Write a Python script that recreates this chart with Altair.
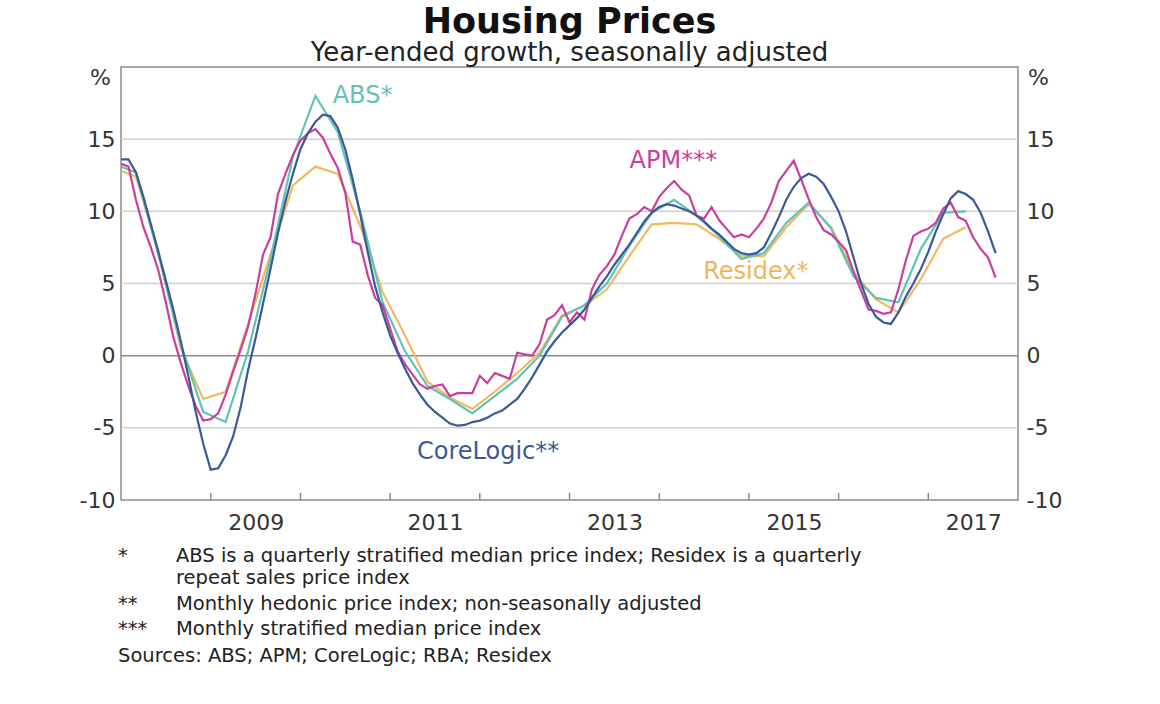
import altair as alt
import pandas as pd

# ---------------- data (year-ended growth, %) ----------------
# CoreLogic, monthly from Dec 2007 to Oct 2017
corelogic = [13.5,
    13.6, 13.6, 12.7, 11.0, 9.1, 7.2, 5.2, 3.2, 1.0, -1.4, -3.9, -6.1,
    -7.9, -7.8, -6.9, -5.6, -3.6, -1.0, 1.2, 3.6, 6.0, 8.5, 10.7, 12.6,
    14.3, 15.4, 16.2, 16.7, 16.6, 15.8, 14.3, 12.2, 9.8, 7.2, 4.8, 3.0,
    1.4, 0.2, -0.9, -1.9, -2.7, -3.4, -3.9, -4.3, -4.7, -4.85, -4.8, -4.6,
    -4.5, -4.3, -4.0, -3.8, -3.4, -3.0, -2.3, -1.5, -0.6, 0.3, 1.0, 1.6,
    2.1, 2.6, 3.2, 4.0, 4.8, 5.5, 6.3, 7.0, 7.7, 8.5, 9.3, 9.9,
    10.3, 10.5, 10.4, 10.2, 10.0, 9.7, 9.3, 8.8, 8.4, 7.9, 7.4, 7.1,
    7.0, 7.1, 7.5, 8.5, 9.6, 10.8, 11.7, 12.3, 12.6, 12.4, 11.9, 11.0,
    10.0, 8.6, 6.8, 5.0, 3.6, 2.7, 2.3, 2.2, 3.0, 4.1, 5.0, 6.0,
    7.2, 8.6, 9.8, 10.9, 11.4, 11.2, 10.8, 9.9, 8.6, 7.1]

# APM, monthly from Dec 2007 to Oct 2017
apm = [13.2,
    13.3, 13.1, 10.8, 8.9, 7.5, 5.9, 3.7, 1.3, -0.5, -2.1, -3.5, -4.5,
    -4.4, -4.0, -2.7, -1.1, 0.4, 2.0, 4.3, 7.0, 8.2, 11.2, 12.6, 13.9,
    14.9, 15.4, 15.7, 15.1, 14.0, 13.0, 11.3, 7.9, 7.7, 5.6, 4.0, 3.5,
    1.9, 0.3, -0.6, -1.3, -2.0, -2.3, -2.1, -2.0, -2.8, -2.6, -2.6, -2.6,
    -1.4, -1.9, -1.2, -1.4, -1.6, 0.2, 0.1, 0.0, 0.8, 2.5, 2.8, 3.5,
    2.3, 3.0, 2.5, 4.6, 5.6, 6.2, 7.0, 8.3, 9.5, 9.8, 10.3, 10.0,
    11.0, 11.6, 12.1, 11.5, 11.1, 9.7, 9.5, 10.3, 9.4, 8.8, 8.2, 8.4,
    8.2, 8.8, 9.5, 10.6, 12.1, 12.8, 13.5, 12.2, 10.85, 9.6, 8.7, 8.4,
    7.9, 7.3, 5.8, 4.5, 3.2, 3.1, 2.9, 3.0, 4.6, 6.6, 8.3, 8.6,
    8.8, 9.2, 10.2, 10.6, 9.6, 9.35, 8.2, 7.4, 6.8, 5.4]

# ABS, quarterly from Dec 2007 to Jun 2017
abs_index = [13.3,
    12.7, 7.0, 0.8, -3.9,
    -4.6, 0.3, 6.7, 13.8,
    18.0, 15.5, 10.0, 3.7,
    0.3, -2.1, -3.0, -4.0,
    -2.8, -1.6, 0.0, 2.7,
    3.5, 5.0, 7.6, 9.9,
    10.8, 9.7, 8.3, 6.7,
    7.1, 9.2, 10.6, 8.8,
    5.5, 4.0, 3.7, 7.4,
    9.9, 10.0]

# Residex, quarterly from Dec 2007 to Jun 2017
residex = [13.0,
    12.4, 7.2, 0.5, -3.0,
    -2.5, 2.2, 7.0, 11.8,
    13.1, 12.6, 9.0, 4.4,
    1.4, -1.8, -2.9, -3.7,
    -2.5, -1.2, 0.2, 2.8,
    3.45, 4.6, 6.9, 9.1,
    9.2, 9.1, 8.1, 6.9,
    6.9, 8.9, 10.5, 8.9,
    5.8, 3.9, 3.0, 5.3,
    8.1, 8.9]

y_ticks = [-10, -5, 0, 5, 10, 15]
grid_values = [-5, 5, 10, 15]
year_ticks = [2009, 2010, 2011, 2012, 2013, 2014, 2015, 2016, 2017]

series_names = ["Residex", "ABS", "APM", "CoreLogic"]
series_colors = ["#f2b95e", "#62c2b7", "#c93f9d", "#3a5997"]
label_texts = ["ABS*", "APM***", "Residex*", "CoreLogic**"]
label_colors = ["#62c2b7", "#c93f9d", "#f0b55a", "#3a5997"]

notes = [
    ("*", "ABS is a quarterly stratified median price index; Residex is a quarterly"),
    ("", "repeat sales price index"),
    ("**", "Monthly hedonic price index; non-seasonally adjusted"),
    ("***", "Monthly stratified median price index"),
]
sources = "Sources: ABS; APM; CoreLogic; RBA; Residex"

# ---------------- build tables ----------------
def to_t(d):
    return d.year + (d.month - 1) / 12.0

m_dates = pd.date_range("2007-12-01", periods=len(corelogic), freq="MS")
q_dates = pd.date_range("2007-12-01", periods=len(abs_index), freq="3MS")

frames = {
    "CoreLogic": pd.DataFrame({"t": [to_t(d) for d in m_dates], "value": corelogic}),
    "APM": pd.DataFrame({"t": [to_t(d) for d in m_dates], "value": apm}),
    "ABS": pd.DataFrame({"t": [to_t(d) for d in q_dates], "value": abs_index}),
    "Residex": pd.DataFrame({"t": [to_t(d) for d in q_dates], "value": residex}),
}

# label anchor points (data coordinates)
label_df = pd.DataFrame({
    "label": label_texts,
    "t": [2010.36, 2013.67, 2014.49, 2011.30],
    "value": [18.0, 13.5, 5.8, -6.7],
    "color": label_colors,
})

W, H = 897, 433
FONT = "DejaVu Sans"
xs = alt.Scale(domain=[2008, 2018], nice=False, zero=False)
ys = alt.Scale(domain=[-10, 20], nice=False, zero=False)

common_axis = dict(grid=False, ticks=False, tickSize=0, domain=False,
                   labelFontSize=22, labelColor="#333333", labelFont=FONT,
                   labelFlush=False, labelOverlap=False)

left_axis = alt.Axis(values=y_ticks, orient="left", labelPadding=6,
                     labelExpr="toString(datum.value)",
                     title="%", titleAngle=0, titleX=-21, titleY=10,
                     titleAlign="center", titleBaseline="middle",
                     titleFontSize=22, titleFontWeight="normal",
                     titleColor="#333333", titleFont=FONT, **common_axis)
right_axis = alt.Axis(values=y_ticks, orient="right", labelPadding=8,
                      labelExpr="toString(datum.value)",
                      title="%", titleAngle=0, titleX=20, titleY=10,
                      titleAlign="center", titleBaseline="middle",
                      titleFontSize=22, titleFontWeight="normal",
                      titleColor="#333333", titleFont=FONT, **common_axis)
x_axis = alt.Axis(values=year_ticks, orient="bottom",
                  labelExpr="datum.value % 2 == 1 ? toString(datum.value) : ''",
                  labelOffset=45, labelPadding=12, title=None, **common_axis)

grid = alt.Chart(pd.DataFrame({"v": grid_values})).mark_rule(
    color="#cfcfcf", strokeWidth=1.5).encode(
    y=alt.Y("v:Q", scale=ys, axis=left_axis))

zero = alt.Chart(pd.DataFrame({"v": [0]})).mark_rule(
    color="#8a8a8a", strokeWidth=1.5).encode(
    y=alt.Y("v:Q", scale=ys, axis=None))

right = alt.Chart(pd.DataFrame({"v": y_ticks})).mark_rule(opacity=0).encode(
    y=alt.Y("v:Q", scale=ys, axis=right_axis))

ticks = alt.Chart(pd.DataFrame({"year": year_ticks})).mark_rule(
    color="#8a8a8a", strokeWidth=1.5).encode(
    x=alt.X("year:Q", scale=xs, axis=x_axis),
    y=alt.value(H - 7), y2=alt.value(H))

lines = []
for name, color in zip(series_names, series_colors):
    lines.append(
        alt.Chart(frames[name]).mark_line(color=color, strokeWidth=2.2, clip=True).encode(
            x=alt.X("t:Q", scale=xs, axis=None),
            y=alt.Y("value:Q", scale=ys, axis=None),
        )
    )

labels = alt.Chart(label_df).mark_text(
    align="left", baseline="middle", fontSize=24, font=FONT).encode(
    x=alt.X("t:Q", scale=xs, axis=None),
    y=alt.Y("value:Q", scale=ys, axis=None),
    text="label:N",
    color=alt.Color("color:N", scale=None),
)

one = pd.DataFrame({"k": [0]})

def note_text(txt, x, y):
    return alt.Chart(one).mark_text(
        text=txt, align="left", baseline="middle", fontSize=19.5, font=FONT,
        color="#222222").encode(x=alt.value(x), y=alt.value(y))

note_layers = []
note_rows = [489, 511, 537, 562]
for (marker, txt), yy in zip(notes, note_rows):
    if marker:
        note_layers.append(note_text(marker, -3, yy))
    note_layers.append(note_text(txt, 55, yy))
note_layers.append(note_text(sources, -3, 589))

chart = alt.layer(grid, zero, right, ticks, *lines, labels, *note_layers).resolve_axis(
    y="independent", x="independent"
).properties(
    width=W, height=H,
    padding={"left": 121, "top": 67, "right": 142, "bottom": 204},
    autosize=alt.AutoSizeParams(type="none"),
    background="white",
    title=alt.TitleParams(
        "Housing Prices",
        subtitle="Year-ended growth, seasonally adjusted",
        font=FONT, fontSize=35, fontWeight="bold", color="#111111",
        subtitleFont=FONT, subtitleFontSize=26, subtitleColor="#222222",
        anchor="middle", frame="group", offset=0, subtitlePadding=0,
    ),
).configure_view(stroke="#8c8c8c", strokeWidth=1.5)

chart.save("out.html", embed_options={"renderer": "svg", "actions": False})
